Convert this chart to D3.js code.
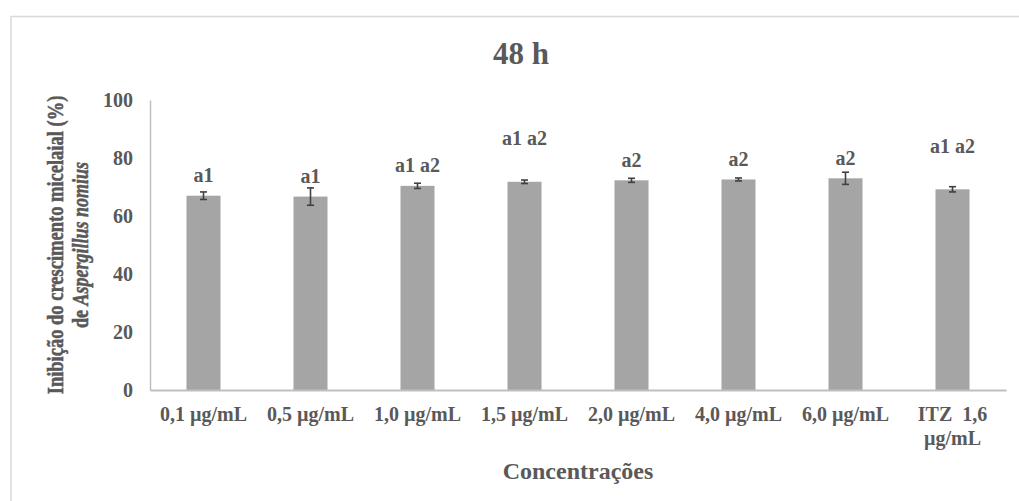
<!DOCTYPE html>
<html>
<head>
<meta charset="utf-8">
<script src="https://cdn.jsdelivr.net/npm/d3@7"></script>
<style>
  body { margin: 0; background: #fff; }
  svg text { font-family: "Liberation Serif", "Times New Roman", serif; font-weight: bold; fill: #595959; }
</style>
</head>
<body>
<svg id="chart"></svg>
<script>
// values
const categories = ["0,1 µg/mL", "0,5 µg/mL", "1,0 µg/mL", "1,5 µg/mL", "2,0 µg/mL", "4,0 µg/mL", "6,0 µg/mL", "ITZ  1,6 µg/mL"];
const inhibition = [67.0, 66.7, 70.4, 71.8, 72.3, 72.6, 73.0, 69.2];
const errors = [1.3, 3.0, 0.9, 0.6, 0.7, 0.5, 2.1, 0.9];
const groupLabels = ["a1", "a1", "a1 a2", "a1 a2", "a2", "a2", "a2", "a1 a2"];
const yTicks = [0, 20, 40, 60, 80, 100];

const data = categories.map((c, i) => ({ cat: c, value: inhibition[i], err: errors[i], label: groupLabels[i] }));

const W = 1019, H = 501;
const margin = { top: 100, right: 13, bottom: 111, left: 150 };
const width = W - margin.left - margin.right;
const height = H - margin.top - margin.bottom;

const svg = d3.select("#chart").attr("width", W).attr("height", H);

// light frame of the chart area
svg.append("rect")
    .attr("x", 11).attr("y", 16.5)
    .attr("width", W + 10).attr("height", H + 10)
    .attr("fill", "none").attr("stroke", "#d9d9d9").attr("stroke-width", 1.5);

const g = svg.append("g").attr("transform", `translate(${margin.left},${margin.top})`);

const x = d3.scaleBand().domain(categories).range([0, width]).paddingInner(0.682).paddingOuter(0.341);
const y = d3.scaleLinear().domain([0, 100]).range([height, 0]);

// y axis
const yAxis = g.append("g")
    .call(d3.axisLeft(y).tickValues(yTicks).tickSize(0).tickPadding(17).tickSizeOuter(0));
yAxis.select(".domain").attr("stroke", "#bfbfbf").attr("stroke-width", 1.5);
yAxis.selectAll("text").style("font-size", "20px").style("font-family", null);

// bars
g.selectAll(".bar")
    .data(data)
    .enter().append("rect")
    .attr("class", "bar")
    .attr("x", d => x(d.cat))
    .attr("y", d => y(d.value))
    .attr("width", x.bandwidth())
    .attr("height", d => height - y(d.value))
    .attr("fill", "#a5a5a5");

// x axis
const xAxis = g.append("g")
    .attr("transform", `translate(0,${height})`)
    .call(d3.axisBottom(x).tickSize(0).tickPadding(17).tickSizeOuter(0));
xAxis.select(".domain").attr("stroke", "#bfbfbf").attr("stroke-width", 2);
xAxis.selectAll("text").style("font-size", "20px").style("font-family", null);

// ITZ label wraps on two lines
xAxis.selectAll("text").filter(d => d.startsWith("ITZ")).each(function (d) {
    const t = d3.select(this);
    t.text(null);
    t.append("tspan").attr("x", 0).attr("xml:space", "preserve").text("ITZ  1,6");
    t.append("tspan").attr("x", 0).attr("dy", "1.2em").text("µg/mL");
});

// error bars
const cap = 3.5;
const eb = g.selectAll(".err")
    .data(data)
    .enter().append("g")
    .attr("class", "err")
    .attr("stroke", "#404040")
    .attr("stroke-width", 1.6);
eb.append("line")
    .attr("x1", d => x(d.cat) + x.bandwidth() / 2)
    .attr("x2", d => x(d.cat) + x.bandwidth() / 2)
    .attr("y1", d => y(d.value - d.err))
    .attr("y2", d => y(d.value + d.err));
eb.append("line")
    .attr("x1", d => x(d.cat) + x.bandwidth() / 2 - cap)
    .attr("x2", d => x(d.cat) + x.bandwidth() / 2 + cap)
    .attr("y1", d => y(d.value + d.err))
    .attr("y2", d => y(d.value + d.err));
eb.append("line")
    .attr("x1", d => x(d.cat) + x.bandwidth() / 2 - cap)
    .attr("x2", d => x(d.cat) + x.bandwidth() / 2 + cap)
    .attr("y1", d => y(d.value - d.err))
    .attr("y2", d => y(d.value - d.err));

// group letters above the bars (two of them were moved up by hand)
const lifted = ["1,5 µg/mL", "ITZ  1,6 µg/mL"];
g.selectAll(".lbl")
    .data(data)
    .enter().append("text")
    .attr("class", "lbl")
    .attr("x", d => x(d.cat) + x.bandwidth() / 2)
    .attr("y", d => y(d.value) - 13.5 - (lifted.includes(d.cat) ? 23 : 0))
    .attr("text-anchor", "middle")
    .style("font-size", "20px")
    .text(d => d.label);

// title
svg.append("text")
    .attr("x", 521).attr("y", 64)
    .attr("text-anchor", "middle")
    .style("font-size", "31px")
    .text("48 h");

// x axis title
svg.append("text")
    .attr("x", margin.left + width / 2).attr("y", 479)
    .attr("text-anchor", "middle")
    .style("font-size", "24px")
    .text("Concentrações");

// y axis title, two lines (glyphs look widened and heavy in the original)
const yt = svg.append("text")
    .attr("transform", `translate(63,${margin.top + height / 2}) rotate(-90) scale(1,1.25)`)
    .attr("text-anchor", "middle")
    .attr("stroke", "#595959").attr("stroke-width", 0.45)
    .style("font-size", "18.5px");
yt.append("tspan").text("Inibição do crescimento micelaial (%)");
const yt2 = svg.append("text")
    .attr("transform", `translate(88,${margin.top + height / 2}) rotate(-90) scale(1,1.25)`)
    .attr("text-anchor", "middle")
    .attr("stroke", "#595959").attr("stroke-width", 0.45)
    .style("font-size", "18px");
yt2.append("tspan").text("de ");
yt2.append("tspan").style("font-style", "italic").text("Aspergillus nomius");
</script>
</body>
</html>
